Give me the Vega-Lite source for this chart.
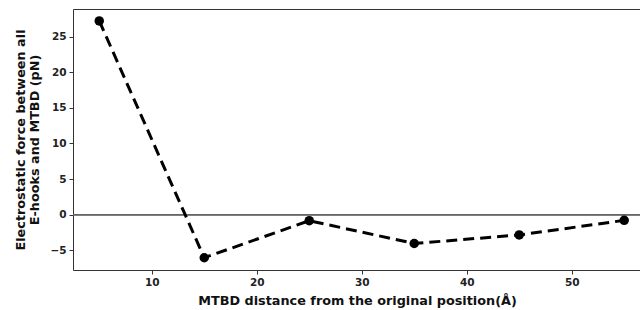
{
  "$schema": "https://vega.github.io/schema/vega-lite/v6.json",
  "width": 568,
  "height": 261,
  "autosize": {"type": "none"},
  "padding": {"left": 73, "top": 9, "right": 0, "bottom": 40},
  "config": {
    "font": "DejaVu Sans",
    "view": {"stroke": "#333333", "strokeWidth": 1},
    "axis": {
      "grid": false,
      "domain": false,
      "tickColor": "#333333",
      "tickSize": 4,
      "labelPadding": 3,
      "labelFont": "DejaVu Sans",
      "labelFontWeight": "bold",
      "labelFontSize": 10.5,
      "labelColor": "#222222",
      "titleFont": "DejaVu Sans",
      "titleFontWeight": "bold",
      "titleFontSize": 12.8,
      "titleColor": "#111111"
    }
  },
  "data": {
    "values": [
      {"distance": 5, "force": 27.2},
      {"distance": 15, "force": -6.05},
      {"distance": 25, "force": -0.85},
      {"distance": 35, "force": -4.05},
      {"distance": 45, "force": -2.85},
      {"distance": 55, "force": -0.8}
    ]
  },
  "layer": [
    {
      "mark": {"type": "rule", "color": "#666666", "strokeWidth": 1.2},
      "encoding": {"y": {"datum": 0, "type": "quantitative"}}
    },
    {
      "mark": {"type": "line", "color": "black", "strokeWidth": 3, "strokeDash": [11, 6], "clip": true},
      "encoding": {
        "x": {
          "field": "distance", "type": "quantitative",
          "scale": {"domain": [2.5, 56.6], "nice": false, "zero": false},
          "axis": {"values": [10, 20, 30, 40, 50], "title": "MTBD distance from the original position(Å)", "titlePadding": 7}
        },
        "y": {
          "field": "force", "type": "quantitative",
          "scale": {"domain": [-7.77, 28.87], "nice": false, "zero": false},
          "axis": {"values": [-5, 0, 5, 10, 15, 20, 25], "title": ["Electrostatic force between all", "E-hooks and MTBD (pN)"], "titlePadding": 8}
        }
      }
    },
    {
      "mark": {"type": "point", "filled": true, "color": "black", "size": 90, "opacity": 1},
      "encoding": {
        "x": {"field": "distance", "type": "quantitative"},
        "y": {"field": "force", "type": "quantitative"}
      }
    }
  ]
}
